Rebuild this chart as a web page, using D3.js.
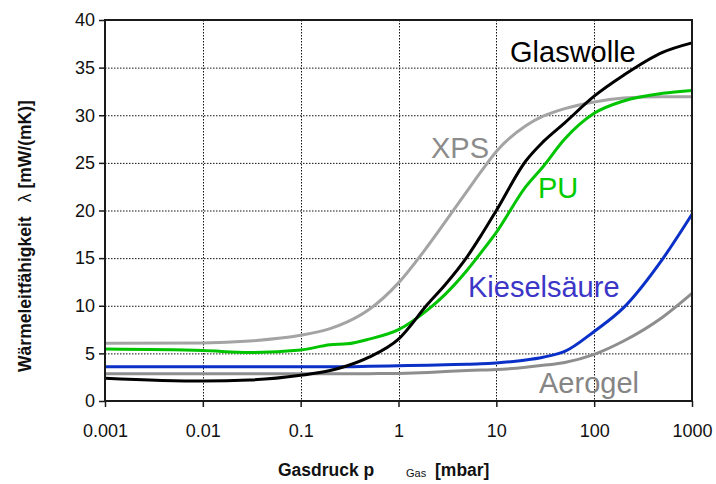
<!DOCTYPE html>
<html>
<head>
<meta charset="utf-8">
<script src="https://cdn.jsdelivr.net/npm/d3@7"></script>
<style>
  html, body { margin: 0; padding: 0; background: #fff; }
  svg { display: block; font-family: "Liberation Sans", Arial, sans-serif; }
</style>
</head>
<body>
<svg id="chart" width="716" height="484"></svg>
<script>
// Gas pressure grid in mbar (shared by all materials)
const pressure = [0.001, 0.01, 0.03, 0.1, 0.2, 0.3, 0.5, 1, 2, 3, 5, 7, 10, 20, 30, 50, 100, 200, 500, 1000];

// Thermal conductivity in mW/(mK) for each insulation material
const glaswolle    = [2.4, 2.1, 2.2, 2.7, 3.2, 3.7, 4.6, 6.5, 10.2, 12.2, 15.1, 17.4, 20.0, 25.2, 27.2, 29.2, 32.0, 34.2, 36.6, 37.6];
const xps          = [6.05, 6.1, 6.3, 6.9, 7.6, 8.3, 9.6, 12.4, 16.3, 18.8, 22.0, 24.1, 26.2, 28.9, 29.9, 30.7, 31.4, 31.8, 31.95, 31.95];
const pu           = [5.45, 5.3, 5.1, 5.35, 5.9, 6.0, 6.5, 7.5, 9.6, 11.2, 13.7, 15.6, 17.7, 22.5, 24.6, 27.5, 30.2, 31.5, 32.3, 32.6];
const kieselsaeure = [3.6, 3.6, 3.6, 3.6, 3.6, 3.6, 3.65, 3.7, 3.75, 3.8, 3.85, 3.9, 4.0, 4.3, 4.6, 5.2, 7.3, 9.8, 14.9, 19.6];
const aerogel      = [2.85, 2.85, 2.85, 2.85, 2.85, 2.85, 2.87, 2.9, 3.0, 3.1, 3.2, 3.25, 3.3, 3.55, 3.75, 4.05, 4.9, 6.3, 8.8, 11.3];

const xTicks = [0.001, 0.01, 0.1, 1, 10, 100, 1000];
const xTickLabels = ["0.001", "0.01", "0.1", "1", "10", "100", "1000"];
const yTicks = [0, 5, 10, 15, 20, 25, 30, 35, 40];

const series = [
  { name: "Aerogel",     values: aerogel,      color: "#8e8e8e", label: "#858585", lx: 539, ly: 393 },
  { name: "Kieselsäure", values: kieselsaeure, color: "#0a30c8", label: "#3b35c8", lx: 468, ly: 297 },
  { name: "XPS",         values: xps,          color: "#a4a4a4", label: "#8c8c8c", lx: 431, ly: 158 },
  { name: "PU",          values: pu,           color: "#00c400", label: "#00cc00", lx: 538, ly: 198 },
  { name: "Glaswolle",   values: glaswolle,    color: "#000000", label: "#000000", lx: 510, ly: 62 }
];

const svg = d3.select("#chart");
const plotLeft = 105, plotRight = 692, plotTop = 20, plotBottom = 401;

const x = d3.scaleLog().domain([0.001, 1000]).range([plotLeft, plotRight]);
const y = d3.scaleLinear().domain([0, 40]).range([plotBottom, plotTop]);

// Dotted grid
const grid = svg.append("g").attr("stroke", "#111").attr("stroke-width", 1).attr("stroke-dasharray", "1.5,1.5");
grid.selectAll("line.h").data(yTicks.filter(d => d > 0 && d < 40)).join("line")
  .attr("class", "h")
  .attr("x1", plotLeft).attr("x2", plotRight)
  .attr("y1", d => y(d) + 0.5).attr("y2", d => y(d) + 0.5);
grid.selectAll("line.v").data(xTicks.slice(1, -1)).join("line")
  .attr("class", "v")
  .attr("x1", d => Math.round(x(d)) + 0.5).attr("x2", d => Math.round(x(d)) + 0.5)
  .attr("y1", plotTop).attr("y2", plotBottom);

// Curves
const line = d3.line()
  .x((d, i) => x(pressure[i]))
  .y(d => y(d))
  .curve(d3.curveMonotoneX);

svg.append("g").selectAll("path").data(series).join("path")
  .attr("d", s => line(s.values))
  .attr("fill", "none")
  .attr("stroke", s => s.color)
  .attr("stroke-width", 3)
  .attr("stroke-linejoin", "round");

// Frame
svg.append("rect")
  .attr("x", plotLeft).attr("y", plotTop)
  .attr("width", plotRight - plotLeft).attr("height", plotBottom - plotTop)
  .attr("fill", "none").attr("stroke", "#1a1a1a").attr("stroke-width", 2);

// Axes
const yAxis = d3.axisLeft(y).tickValues(yTicks).tickSize(6).tickPadding(4);
const gy = svg.append("g").attr("transform", `translate(${plotLeft},0)`).call(yAxis);
const xAxis = d3.axisBottom(x).tickValues(xTicks).tickFormat((d, i) => xTickLabels[i]).tickSize(6).tickPadding(17);
const gx = svg.append("g").attr("transform", `translate(0,${plotBottom})`).call(xAxis);
[gx, gy].forEach(g => {
  g.select(".domain").remove();
  g.selectAll(".tick line").attr("stroke", "#1a1a1a").attr("stroke-width", 1.5);
  g.selectAll(".tick text").attr("font-size", 18).attr("fill", "#111")
    .attr("font-family", "'Liberation Sans', Arial, sans-serif");
});

// Series names
svg.append("g").selectAll("text").data(series).join("text")
  .attr("x", s => s.lx).attr("y", s => s.ly)
  .attr("fill", s => s.label)
  .attr("font-size", 29)
  .text(s => s.name);

// Axis titles
const xt = svg.append("text").attr("y", 476).attr("fill", "#111");
xt.append("tspan").attr("x", 278).attr("font-size", 17.5).attr("font-weight", "bold").text("Gasdruck p");
xt.append("tspan").attr("x", 406).attr("dy", 1).attr("font-size", 11).text("Gas");
xt.append("tspan").attr("x", 435).attr("dy", -1).attr("font-size", 17.5).attr("font-weight", "bold").text("[mbar]");

const yt = svg.append("text")
  .attr("transform", "translate(31,236) rotate(-90)")
  .attr("text-anchor", "middle")
  .attr("fill", "#111")
  .attr("font-size", 17.5);
yt.append("tspan").attr("font-weight", "bold").text("Wärmeleitfähigkeit");
yt.append("tspan").attr("dx", 14).text("λ");
yt.append("tspan").attr("dx", 5).attr("font-weight", "bold").text("[mW/(mK)]");
</script>
</body>
</html>
